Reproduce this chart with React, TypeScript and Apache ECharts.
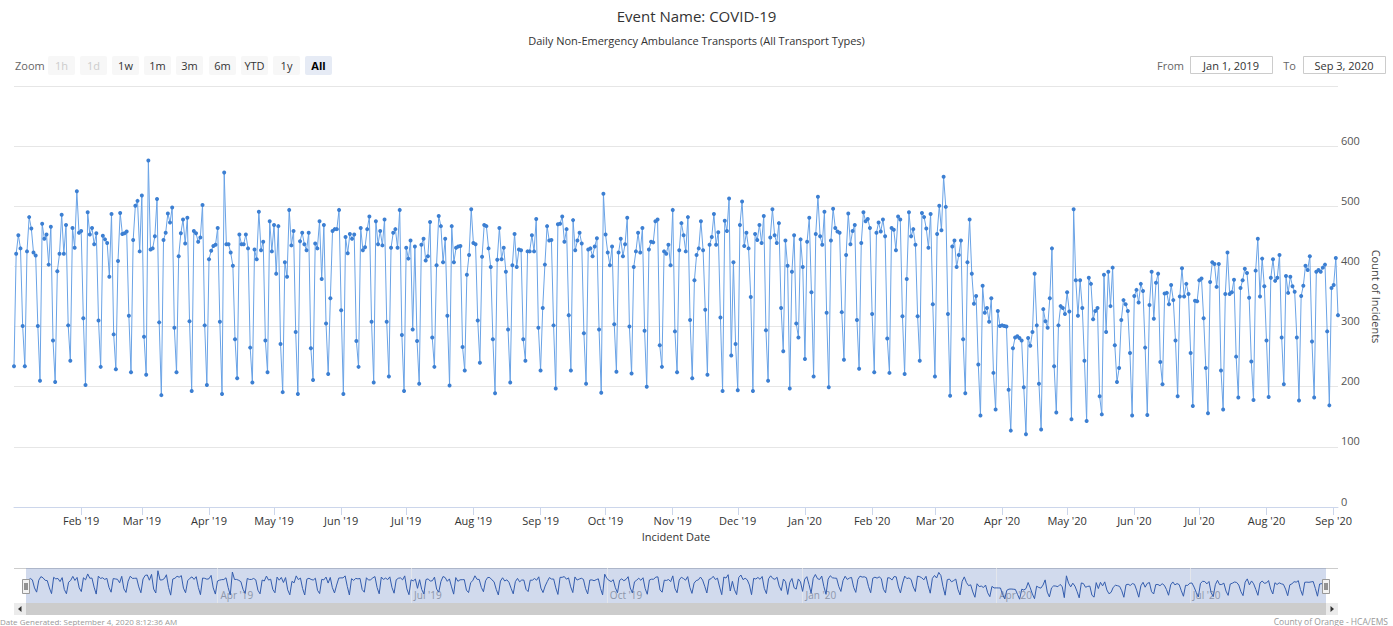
import React, { useEffect, useRef } from "react";
import * as echarts from "echarts";

// ---- Data (daily counts) ----
const START_DATE = "2019-01-01";
const MONTH_NAMES = ["Jan", "Feb", "Mar", "Apr", "May", "Jun", "Jul", "Aug", "Sep", "Oct", "Nov", "Dec"];

const jan19 = [234, 421, 452, 430, 301, 234, 425, 482, 463, 423, 418, 301, 210, 471, 446, 453, 403, 466, 277, 208, 392, 421, 486, 421, 469, 302, 243, 464, 431, 525, 456];
const feb19 = [459, 314, 203, 490, 453, 464, 437, 455, 310, 233, 451, 445, 439, 383, 487, 287, 229, 409, 489, 454, 455, 458, 318, 224, 444, 501, 509, 425];
const mar19 = [518, 283, 220, 576, 428, 430, 450, 512, 307, 186, 444, 456, 488, 473, 498, 298, 224, 417, 455, 478, 438, 481, 309, 193, 459, 455, 441, 448, 502, 302, 203];
const apr19 = [412, 426, 434, 436, 464, 308, 188, 556, 437, 437, 423, 401, 279, 214, 453, 437, 437, 453, 430, 265, 207, 428, 412, 491, 427, 441, 277, 224, 475, 425];
const may19 = [469, 388, 467, 271, 191, 407, 383, 494, 435, 459, 291, 188, 442, 456, 437, 427, 456, 264, 211, 438, 430, 475, 379, 469, 305, 221, 347, 459, 462, 462, 494];
const jun19 = [327, 188, 449, 422, 454, 446, 453, 276, 233, 464, 427, 432, 462, 483, 308, 207, 475, 437, 459, 435, 478, 308, 217, 431, 456, 462, 431, 494, 286, 193];
const jul19 = [431, 413, 443, 295, 433, 276, 205, 436, 446, 410, 417, 474, 282, 233, 402, 484, 467, 407, 446, 318, 202, 467, 407, 431, 433, 434, 266, 227, 386, 419, 495];
const aug19 = [439, 437, 310, 240, 416, 469, 467, 430, 399, 279, 189, 411, 464, 412, 431, 391, 295, 207, 402, 454, 399, 428, 427, 279, 243, 425, 425, 452, 425, 479, 298];
const sep19 = [227, 331, 403, 467, 443, 444, 302, 197, 470, 471, 483, 441, 462, 319, 227, 477, 427, 443, 456, 438, 289, 205, 428, 430, 417, 433, 447, 295, 190, 521];
const oct19 = [453, 423, 402, 433, 304, 225, 423, 446, 417, 437, 481, 300, 222, 399, 425, 456, 423, 464, 293, 200, 428, 441, 440, 475, 478, 269, 233, 425, 421, 436, 402];
const nov19 = [494, 292, 224, 427, 472, 452, 425, 482, 311, 214, 377, 419, 430, 475, 427, 328, 220, 436, 449, 487, 436, 457, 315, 193, 476, 459, 513, 252, 407, 271];
const dec19 = [194, 469, 508, 434, 456, 430, 349, 193, 454, 444, 469, 439, 484, 294, 210, 448, 495, 452, 439, 472, 331, 259, 443, 401, 197, 391, 452, 305, 282, 445, 399];
const jan20 = [246, 441, 481, 357, 217, 454, 516, 450, 436, 491, 323, 199, 443, 496, 464, 458, 456, 324, 245, 419, 488, 437, 459, 469, 311, 230, 439, 490, 475, 479, 464];
const feb20 = [321, 224, 456, 473, 458, 478, 450, 280, 223, 464, 461, 427, 483, 478, 317, 221, 379, 490, 450, 462, 436, 317, 243, 489, 482, 463, 431, 487, 337];
const mar20 = [217, 454, 501, 460, 549, 499, 321, 185, 433, 443, 399, 419, 443, 279, 189, 407, 478, 388, 338, 351, 237, 152, 368, 323, 331, 308, 347, 223, 162, 326, 301];
const apr20 = [302, 301, 300, 195, 127, 264, 282, 284, 281, 277, 199, 121, 281, 268, 291, 388, 302, 205, 129, 329, 309, 298, 347, 430, 234, 157, 302, 334, 331, 321];
const may20 = [357, 325, 146, 495, 377, 318, 377, 331, 243, 143, 381, 371, 312, 326, 331, 184, 154, 386, 291, 391, 334, 398, 269, 208, 231, 311, 344, 337, 326, 256, 152];
const jun20 = [351, 361, 340, 371, 359, 265, 153, 336, 391, 313, 373, 388, 241, 204, 355, 356, 337, 369, 344, 277, 184, 350, 397, 350, 371, 354, 256, 168, 343, 342];
const jul20 = [377, 380, 314, 231, 156, 374, 407, 404, 366, 404, 227, 162, 354, 423, 354, 357, 378, 250, 182, 364, 377, 396, 389, 348, 242, 178, 393, 446, 350, 413, 367];
const aug20 = [277, 183, 381, 412, 376, 381, 419, 282, 204, 384, 356, 383, 367, 358, 282, 177, 351, 368, 401, 394, 417, 275, 182, 391, 394, 391, 398, 403, 292, 169, 364];
const sep20 = [369, 414, 319];

const Y_TICKS = [0, 100, 200, 300, 400, 500, 600];
const ZOOM_BUTTONS = ["1h", "1d", "1w", "1m", "3m", "6m", "YTD", "1y", "All"];
const DISABLED_BUTTONS = ["1h", "1d"];
const SELECTED_BUTTON = "All";
const FROM_LABEL = "Jan 1, 2019";
const TO_LABEL = "Sep 3, 2020";

const values = [
  ...jan19, ...feb19, ...mar19, ...apr19, ...may19, ...jun19, ...jul19, ...aug19, ...sep19, ...oct19, ...nov19, ...dec19,
  ...jan20, ...feb20, ...mar20, ...apr20, ...may20, ...jun20, ...jul20, ...aug20, ...sep20,
];

function buildDates(start: string, n: number): string[] {
  const [y, m, d] = start.split("-").map(Number);
  const out: string[] = [];
  for (let i = 0; i < n; i++) {
    const dt = new Date(Date.UTC(y, m - 1, d + i));
    out.push(dt.toISOString().slice(0, 10));
  }
  return out;
}
const dates = buildDates(START_DATE, values.length);

const fmtMonth = (v: string) => {
  const [y, m] = v.split("-");
  return MONTH_NAMES[Number(m) - 1] + " '" + y.slice(2);
};
const isMonthStart = (i: number, v: string) => i > 0 && v.endsWith("-01");
const isQuarterStart = (i: number, v: string) =>
  i > 0 && v.endsWith("-01") && ["01", "04", "07", "10"].includes(v.slice(5, 7));

const FONT = "'Open Sans', 'DejaVu Sans', sans-serif";

export default function App() {
  const ref = useRef<HTMLDivElement>(null);
  useEffect(() => {
    document.body.style.margin = "0";
    if (!ref.current) return;
    const chart = echarts.init(ref.current, undefined, { renderer: "svg" });

    const graphics: any[] = [];
    // Range selector
    graphics.push({
      type: "text", x: 15, y: 65.5,
      style: { text: "Zoom", verticalAlign: "middle", fill: "#666", fontSize: 11, fontFamily: FONT },
    });
    const btnX = [48, 80, 112, 144, 176, 209, 241, 273, 305];
    ZOOM_BUTTONS.forEach((b, i) => {
      const sel = b === SELECTED_BUTTON;
      const dis = DISABLED_BUTTONS.includes(b);
      graphics.push({
        type: "rect", shape: { x: btnX[i], y: 56, width: 27, height: 19, r: 2 },
        style: { fill: sel ? "#e6ebf5" : "#f7f7f7" },
      });
      graphics.push({
        type: "text", x: btnX[i] + 13.5, y: 65.5,
        style: {
          text: b, align: "center", verticalAlign: "middle", fontSize: 11, fontFamily: FONT,
          fill: dis ? "#cccccc" : sel ? "#000" : "#333", fontWeight: sel ? "bold" : "normal",
        },
      });
    });
    // From / To inputs
    graphics.push({ type: "text", x: 1184, y: 65, style: { text: "From", align: "right", verticalAlign: "middle", fill: "#666", fontSize: 11, fontFamily: FONT } });
    graphics.push({ type: "rect", shape: { x: 1190.5, y: 56.5, width: 82, height: 17 }, style: { fill: "#fff", stroke: "#cccccc", lineWidth: 1 } });
    graphics.push({ type: "text", x: 1231, y: 65, style: { text: FROM_LABEL, align: "center", verticalAlign: "middle", fill: "#333", fontSize: 11, fontFamily: FONT } });
    graphics.push({ type: "text", x: 1296, y: 65, style: { text: "To", align: "right", verticalAlign: "middle", fill: "#666", fontSize: 11, fontFamily: FONT } });
    graphics.push({ type: "rect", shape: { x: 1303.5, y: 56.5, width: 82, height: 17 }, style: { fill: "#fff", stroke: "#cccccc", lineWidth: 1 } });
    graphics.push({ type: "text", x: 1344, y: 65, style: { text: TO_LABEL, align: "center", verticalAlign: "middle", fill: "#333", fontSize: 11, fontFamily: FONT } });

    // Navigator outline
    graphics.push({ type: "line", z: -1, shape: { x1: 14, y1: 568.5, x2: 1338, y2: 568.5 }, style: { stroke: "#cccccc", lineWidth: 1 } });
    // Scrollbar
    graphics.push({ type: "rect", shape: { x: 14, y: 603, width: 1324, height: 12 }, style: { fill: "#cccccc" } });
    graphics.push({ type: "rect", shape: { x: 14, y: 603, width: 12, height: 12 }, style: { fill: "#ebebeb" } });
    graphics.push({ type: "rect", shape: { x: 1326, y: 603, width: 12, height: 12 }, style: { fill: "#ebebeb" } });
    graphics.push({ type: "polygon", shape: { points: [[21.5, 606], [21.5, 612], [18, 609]] }, style: { fill: "#333" } });
    graphics.push({ type: "polygon", shape: { points: [[1330.5, 606], [1330.5, 612], [1334, 609]] }, style: { fill: "#333" } });
    // Handles
    [22.5, 1322.5].forEach((hx) => {
      graphics.push({ type: "rect", z: 10, shape: { x: hx, y: 579.5, width: 7, height: 14 }, style: { fill: "#f2f2f2", stroke: "#999999", lineWidth: 1 } });
      graphics.push({ type: "line", z: 11, shape: { x1: hx + 2.5, y1: 583, x2: hx + 2.5, y2: 590 }, style: { stroke: "#333", lineWidth: 1 } });
      graphics.push({ type: "line", z: 11, shape: { x1: hx + 4.5, y1: 583, x2: hx + 4.5, y2: 590 }, style: { stroke: "#333", lineWidth: 1 } });
    });
    // Footer
    graphics.push({ type: "text", x: 0, y: 621, style: { text: "Date Generated: September 4, 2020 8:12:36 AM", verticalAlign: "middle", fill: "#999", fontSize: 8, fontFamily: FONT } });
    graphics.push({ type: "text", x: 1388, y: 621, style: { text: "County of Orange - HCA/EMS", align: "right", verticalAlign: "middle", fill: "#999", fontSize: 8.5, fontFamily: FONT } });

    chart.setOption({
      animation: false,
      backgroundColor: "#ffffff",
      textStyle: { fontFamily: FONT },
      title: [
        { text: "Event Name: COVID-19", left: "center", top: 1, textStyle: { fontSize: 15, lineHeight: 20, fontWeight: "normal", color: "#333", fontFamily: FONT } },
        { text: "Daily Non-Emergency Ambulance Transports (All Transport Types)", left: "center", top: 28, textStyle: { fontSize: 11, lineHeight: 14, fontWeight: "normal", color: "#333", fontFamily: FONT } },
      ],
      grid: [
        { left: 14, right: 55, top: 86, bottom: 119 },
        { left: 26, right: 67, top: 568, bottom: 23, show: true, backgroundColor: "rgba(102,133,194,0.3)", borderWidth: 0 },
      ],
      xAxis: [
        {
          type: "category", gridIndex: 0, data: dates, boundaryGap: false,
          axisLine: { lineStyle: { color: "#ccd6eb" } },
          axisTick: { interval: isMonthStart, length: 8, lineStyle: { color: "#ccd6eb" } },
          axisLabel: { interval: isMonthStart, formatter: fmtMonth, color: "#333", fontSize: 11, margin: 8, fontFamily: FONT },
          splitLine: { show: false },
          name: "Incident Date", nameLocation: "middle", nameGap: 22,
          nameTextStyle: { color: "#333", fontSize: 11, fontFamily: FONT },
        },
        {
          type: "category", gridIndex: 1, data: dates, boundaryGap: false,
          axisLine: { show: false }, axisTick: { show: false },
          axisLabel: { interval: isQuarterStart, formatter: fmtMonth, inside: true, align: "left", margin: 3, padding: [0, 0, 0, 3], color: "#8d96aa", fontSize: 10, fontFamily: FONT },
          splitLine: { show: true, interval: isQuarterStart, lineStyle: { color: "rgba(235,235,235,0.7)" } },
        },
      ],
      yAxis: [
        {
          type: "value", gridIndex: 0, position: "right", min: 0, max: 700, interval: 100,
          axisLine: { show: false }, axisTick: { show: false },
          axisLabel: {
            formatter: (v: number) => (Y_TICKS.includes(v) ? String(v) : ""),
            color: "#555", fontSize: 11, margin: 3, align: "left", verticalAlign: "bottom", lineHeight: 12, fontFamily: FONT,
          },
          splitLine: { lineStyle: { color: "#e6e6e6" } },
          name: "Count of Incidents", nameLocation: "middle", nameRotate: -90, nameGap: 26,
          nameTextStyle: { color: "#444", fontSize: 11, fontFamily: FONT },
        },
        { type: "value", gridIndex: 1, min: 60, max: 620, show: false, splitLine: { show: false } },
      ],
      series: [
        {
          type: "line", xAxisIndex: 0, yAxisIndex: 0, data: values,
          symbol: "circle", symbolSize: 4, showAllSymbol: true,
          lineStyle: { width: 1, color: "#6aa3e6" }, itemStyle: { color: "#3c7fd2" },
        },
        {
          type: "line", xAxisIndex: 1, yAxisIndex: 1, data: values,
          symbol: "none", lineStyle: { width: 1, color: "#335cad" }, silent: true,
        },
      ],
      graphic: graphics,
    });
    return () => chart.dispose();
  }, []);
  return <div ref={ref} style={{ width: 1393, height: 626 }} />;
}
